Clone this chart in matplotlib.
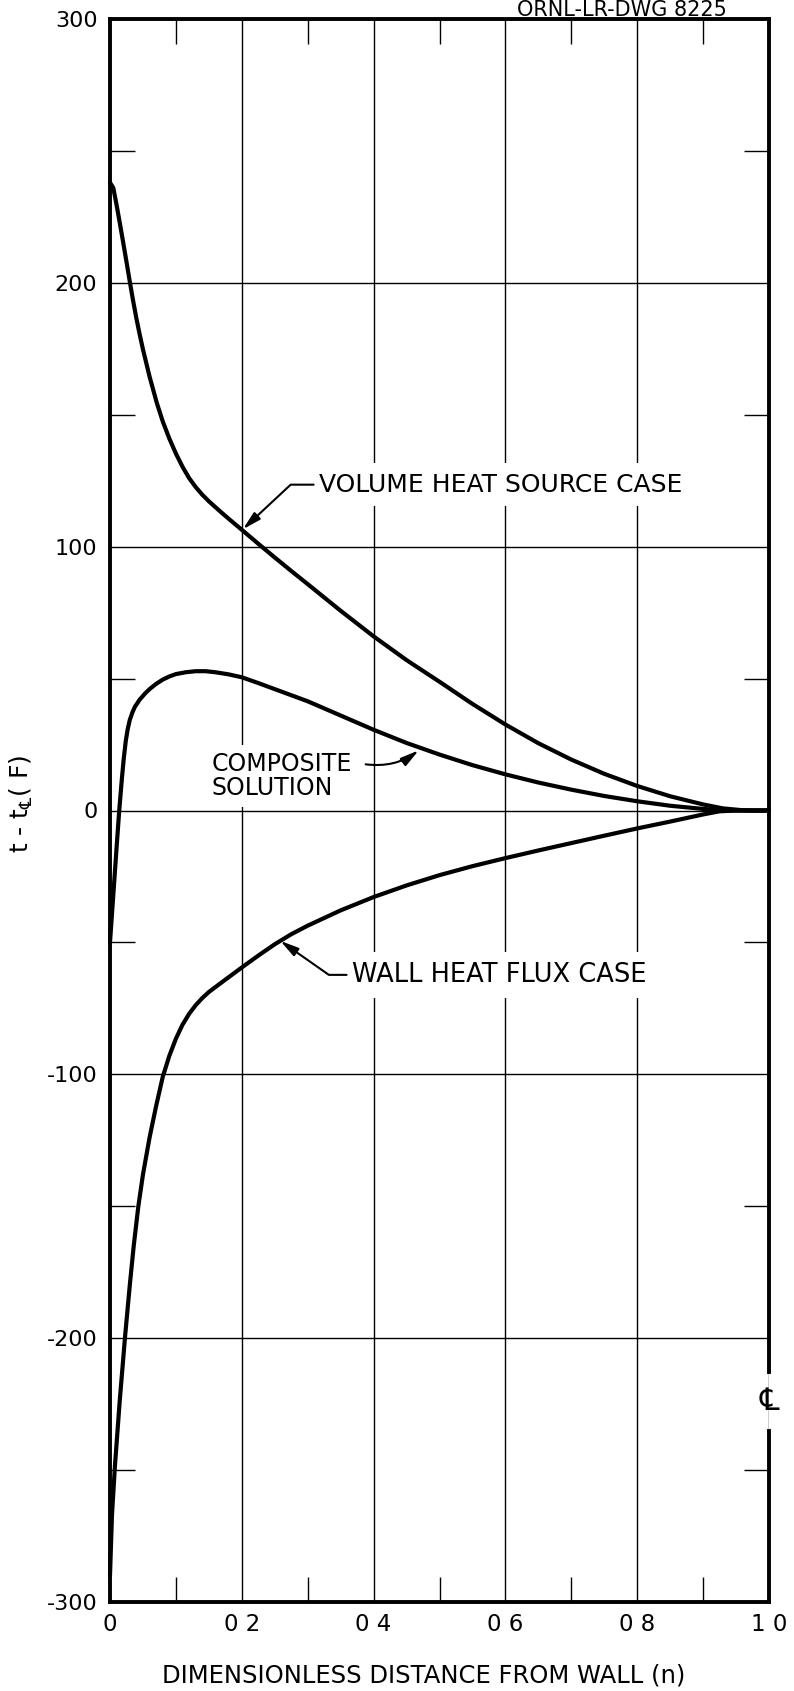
import matplotlib
matplotlib.use("Agg")
import matplotlib.pyplot as plt

plt.rcParams["font.family"] = ["DejaVu Sans"]

# Temperature difference t - t_CL (F) versus dimensionless distance from the wall
eta_volume = [0.000, 0.005, 0.010, 0.015, 0.020, 0.025, 0.030, 0.035, 0.040,
              0.045, 0.050, 0.060, 0.071, 0.080, 0.090, 0.100, 0.110, 0.120,
              0.130, 0.140, 0.150, 0.167, 0.180, 0.200, 0.225, 0.250, 0.275,
              0.300, 0.350, 0.400, 0.450, 0.500, 0.550, 0.600, 0.650, 0.700,
              0.750, 0.800, 0.850, 0.900, 0.930, 0.960, 0.980, 1.000]
t_volume = [238, 236, 229.5, 222.5, 215.3, 208, 200.5, 193.3, 186.6,
            180.5, 174.8, 164.5, 154.5, 147.5, 141, 135.3, 130.3, 126,
            122.6, 119.7, 117.2, 113.4, 110.6, 106.4, 101.1, 95.9, 90.8,
            85.8, 75.7, 66, 57, 48.8, 40.4, 32.6, 25.5, 19.3,
            13.9, 9.3, 5.4, 2.3, 0.8, 0.1, 0, 0]

eta_composite = [0.000, 0.005, 0.010, 0.014, 0.018, 0.021, 0.024, 0.027, 0.030,
                 0.034, 0.038, 0.045, 0.053, 0.060, 0.070, 0.080, 0.090, 0.100,
                 0.115, 0.130, 0.145, 0.160, 0.180, 0.200, 0.225, 0.250, 0.275,
                 0.300, 0.350, 0.400, 0.450, 0.500, 0.550, 0.600, 0.650, 0.700,
                 0.750, 0.800, 0.850, 0.900, 0.930, 0.950, 1.000]
t_composite = [-50, -32, -14, 0, 12, 20, 26.5, 31, 34.3,
               37.2, 39.4, 42, 44.3, 46, 48, 49.6, 50.8, 51.7,
               52.4, 52.8, 52.8, 52.4, 51.6, 50.5, 48.3, 46, 43.7,
               41.4, 36, 30.6, 25.6, 21.2, 17.2, 13.7, 10.6, 7.9,
               5.5, 3.5, 1.8, 0.6, 0.1, 0, 0]

eta_wall = [0.000, 0.003, 0.0076, 0.015, 0.023, 0.030, 0.036, 0.043, 0.050,
            0.060, 0.070, 0.080, 0.090, 0.100, 0.110, 0.120, 0.130, 0.140,
            0.150, 0.1665, 0.180, 0.200, 0.225, 0.250, 0.275, 0.300, 0.350,
            0.400, 0.450, 0.500, 0.550, 0.600, 0.650, 0.700, 0.750, 0.800,
            0.850, 0.900, 0.925, 0.950, 1.000]
t_wall = [-290, -267, -248, -223, -199, -180, -165, -150, -138,
          -124, -112, -101, -93, -86.5, -81.2, -77.1, -73.8, -71.1,
          -68.8, -65.7, -63.2, -59.5, -55, -50.7, -46.9, -43.65, -37.85,
          -32.8, -28.4, -24.5, -21.1, -18.05, -15.15, -12.35, -9.55, -6.8,
          -4.2, -1.5, -0.3, 0, 0]

x_major = [0, 0.2, 0.4, 0.6, 0.8, 1.0]
x_tick_labels = ["0", "0 2", "0 4", "0 6", "0 8", "1 0"]
x_minor = [0.1, 0.3, 0.5, 0.7, 0.9]
y_major = [-300, -200, -100, 0, 100, 200, 300]
y_tick_labels = ["-300", "-200", "-100", "0", "100", "200", "300"]
y_minor = [-250, -150, -50, 50, 150, 250]

W, H = 794, 1691
fig = plt.figure(figsize=(W / 100, H / 100), dpi=100)
ax = fig.add_axes([110 / W, 89 / H, 659 / W, 1583 / H])
ax.set_xlim(0, 1)
ax.set_ylim(-300, 300)

ax.set_xticks(x_major)
ax.set_xticklabels(x_tick_labels)
ax.set_yticks(y_major)
ax.set_yticklabels(y_tick_labels)
ax.set_xticks(x_minor, minor=True)
ax.set_yticks(y_minor, minor=True)
ax.tick_params(axis="y", which="major", length=0, labelsize=16, pad=9)
ax.tick_params(axis="x", which="major", length=0, labelsize=16.5, pad=8)
ax.tick_params(which="minor", direction="in", length=18, width=1.0,
               top=True, right=True, bottom=True, left=True, color="black")
ax.grid(True, which="major", color="black", lw=1.0, zorder=1)
ax.set_axisbelow(True)

for side in ("left", "top", "bottom"):
    ax.spines[side].set_linewidth(2.8)
ax.spines["right"].set_visible(False)

# right boundary (centre line), broken around the CL symbol
cl_gap = (-235, -213)
ax.plot([1, 1], [-300, cl_gap[0]], color="black", lw=2.8, clip_on=False,
        solid_capstyle="projecting", zorder=6)
ax.plot([1, 1], [cl_gap[1], 300], color="black", lw=2.8, clip_on=False,
        solid_capstyle="projecting", zorder=6)
ax.text(1.0, sum(cl_gap) / 2, "\u2104", ha="center", va="center",
        fontsize=22, zorder=6, clip_on=False)

curve_kw = dict(color="black", lw=3.0, solid_joinstyle="round",
                solid_capstyle="round", zorder=4, clip_on=False)
ax.plot(eta_volume, t_volume, **curve_kw)
ax.plot(eta_composite, t_composite, **curve_kw)
ax.plot(eta_wall, t_wall, **curve_kw)

label_bbox = dict(facecolor="white", edgecolor="none", pad=7)
arrow_kw = dict(arrowstyle="-|>,head_length=1.1,head_width=0.28",
                color="black", lw=1.5, shrinkA=0, shrinkB=0)

ax.text(0.3175, 123.5, "VOLUME HEAT SOURCE CASE", ha="left", va="center",
        fontsize=18, bbox=label_bbox, zorder=3)
ax.annotate("", xy=(0.2016, 106.6), xytext=(0.309, 123.5),
            arrowprops=dict(connectionstyle="angle,angleA=180,angleB=43,rad=0",
                            **arrow_kw), zorder=5)

ax.text(0.154, 13, "COMPOSITE\nSOLUTION", ha="left", va="center",
        fontsize=17, linespacing=1.0, bbox=dict(facecolor="white",
        edgecolor="none", pad=5), zorder=3)
ax.annotate("", xy=(0.4685, 22.8), xytext=(0.388, 17.5),
            arrowprops=dict(connectionstyle="arc3,rad=0.2", **arrow_kw),
            zorder=5)

ax.text(0.3665, -62.3, "WALL HEAT FLUX CASE", ha="left", va="center",
        fontsize=18.5, bbox=label_bbox, zorder=3)
ax.annotate("", xy=(0.2584, -49.4), xytext=(0.359, -62.3),
            arrowprops=dict(connectionstyle="angle,angleA=180,angleB=-35,rad=0",
                            **arrow_kw), zorder=5)

fig.text(21 / W, 1 - 804 / H, "t - t$_{\u2104}$( F)", rotation=90,
         ha="center", va="center", fontsize=18)
fig.text(424 / W, 1 - 1676 / H, "DIMENSIONLESS DISTANCE FROM WALL (n)",
         ha="center", va="center", fontsize=17.5)
fig.text(517 / W, 1 - 16 / H, "ORNL-LR-DWG 8225", ha="left", va="baseline",
         fontsize=15)

fig.savefig("out.png", dpi=100)
